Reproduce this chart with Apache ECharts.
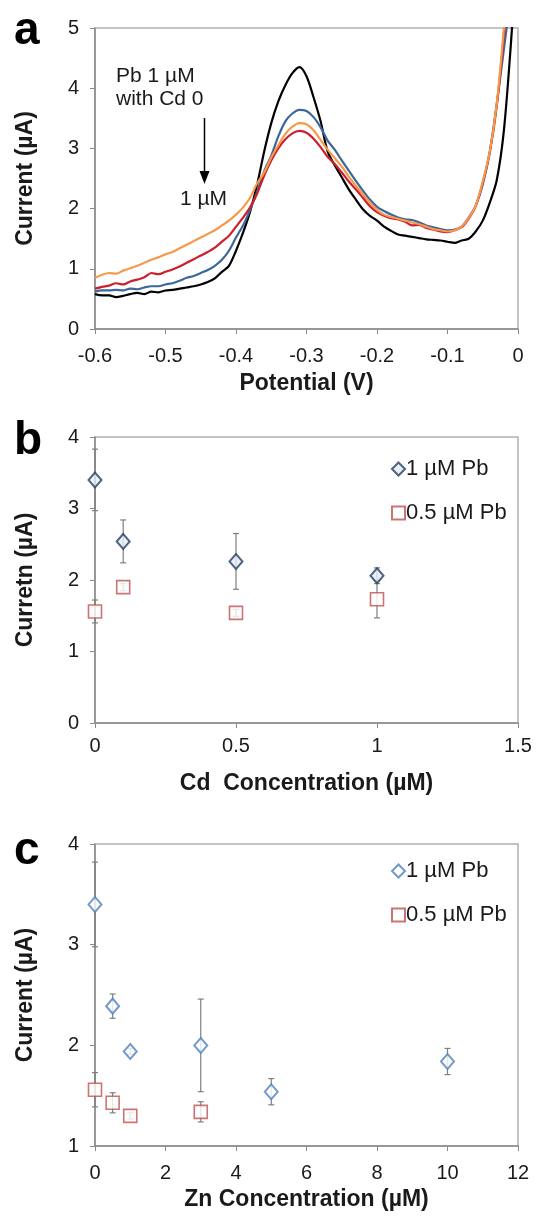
<!DOCTYPE html>
<html>
<head>
<meta charset="utf-8">
<script src="https://cdn.jsdelivr.net/npm/echarts@6/dist/echarts.min.js"></script>
<style>
  html, body { margin: 0; padding: 0; background: #fff; }
  #wrap { position: relative; width: 537px; height: 1216px; }
  .panel { position: absolute; left: 0; width: 537px; }
</style>
</head>
<body>
<div id="wrap">
  <div id="pa" class="panel" style="top:0;height:400px"></div>
  <div id="pb" class="panel" style="top:400px;height:400px"></div>
  <div id="pc" class="panel" style="top:800px;height:416px"></div>
</div>
<script>
// ---- Panel a: stripping voltammograms, Pb 1 µM with Cd 0 → 1 µM ----
const potential = [
  -0.60, -0.59, -0.58, -0.57, -0.56, -0.55, -0.54, -0.53, -0.52, -0.51,
  -0.50, -0.49, -0.48, -0.47, -0.46, -0.45, -0.44, -0.43, -0.42, -0.41,
  -0.40, -0.39, -0.38, -0.37, -0.36, -0.35, -0.34, -0.33, -0.32, -0.31,
  -0.30, -0.29, -0.28, -0.27, -0.26, -0.25, -0.24, -0.23, -0.22, -0.21,
  -0.20, -0.19, -0.18, -0.17, -0.16, -0.15, -0.14, -0.13, -0.12, -0.11,
  -0.10, -0.09, -0.08, -0.07, -0.06, -0.05, -0.04, -0.03, -0.02, -0.01, 0.00
];
const currentCd0 = [
  0.58, 0.56, 0.56, 0.53, 0.55, 0.58, 0.60, 0.58, 0.62, 0.61,
  0.64, 0.65, 0.67, 0.69, 0.71, 0.74, 0.78, 0.84, 0.95, 1.05,
  1.30, 1.60, 1.95, 2.40, 2.95, 3.42, 3.78, 4.05, 4.25, 4.35,
  4.20, 3.85, 3.45, 2.95, 2.72, 2.52, 2.32, 2.15, 1.99, 1.88,
  1.80, 1.70, 1.63, 1.57, 1.55, 1.53, 1.51, 1.49, 1.48, 1.47,
  1.45, 1.43, 1.47, 1.50, 1.62, 1.80, 2.10, 2.48, 3.30, 4.75, 6.50
];
const currentCdA = [
  0.62, 0.64, 0.64, 0.65, 0.64, 0.67, 0.66, 0.69, 0.71, 0.71,
  0.74, 0.76, 0.80, 0.85, 0.88, 0.93, 0.98, 1.05, 1.15, 1.30,
  1.52, 1.72, 1.98, 2.28, 2.62, 2.88, 3.20, 3.45, 3.58, 3.64,
  3.62, 3.52, 3.35, 3.13, 2.98, 2.80, 2.63, 2.46, 2.30, 2.15,
  2.03, 1.96, 1.90, 1.85, 1.82, 1.81, 1.77, 1.72, 1.69, 1.66,
  1.64, 1.65, 1.70, 1.85, 2.05, 2.40, 2.95, 3.75, 4.65, 5.60, 7.00
];
const currentCdB = [
  0.67, 0.70, 0.72, 0.76, 0.74, 0.79, 0.82, 0.86, 0.93, 0.91,
  0.95, 0.99, 1.04, 1.10, 1.16, 1.22, 1.28, 1.35, 1.45, 1.55,
  1.70, 1.85, 2.02, 2.25, 2.55, 2.80, 3.00, 3.15, 3.25, 3.29,
  3.26, 3.16, 3.02, 2.86, 2.74, 2.60, 2.45, 2.32, 2.18, 2.04,
  1.94, 1.88, 1.84, 1.82, 1.78, 1.72, 1.73, 1.68, 1.65, 1.62,
  1.61, 1.64, 1.69, 1.83, 2.04, 2.43, 2.93, 3.72, 4.90, 6.40, 7.50
];
const currentCd1 = [
  0.85, 0.90, 0.93, 0.92, 0.97, 1.01, 1.05, 1.10, 1.15, 1.19,
  1.24, 1.28, 1.34, 1.40, 1.46, 1.52, 1.58, 1.64, 1.72, 1.80,
  1.90, 2.02, 2.18, 2.42, 2.60, 2.85, 3.05, 3.24, 3.36, 3.42,
  3.40, 3.30, 3.14, 2.98, 2.84, 2.70, 2.53, 2.38, 2.24, 2.10,
  1.98, 1.90, 1.86, 1.83, 1.80, 1.77, 1.74, 1.70, 1.66, 1.64,
  1.62, 1.64, 1.70, 1.84, 2.05, 2.45, 2.95, 3.76, 5.00, 6.50, 8.00
];
const potentialTicks = ['-0.6', '-0.5', '-0.4', '-0.3', '-0.2', '-0.1', '0'];

// ---- Panel b: Pb response vs Cd concentration ----
const cdConc = [0, 0.1, 0.5, 1];
const pb1WithCd = [3.40, 2.54, 2.26, 2.06];
const pb1WithCdErr = [0.43, 0.30, 0.39, 0.11];
const pb05WithCd = [1.56, 1.90, 1.54, 1.73];
const pb05WithCdErr = [0.16, 0.05, 0.05, 0.26];

// ---- Panel c: Pb response vs Zn concentration ----
const znConc1 = [0, 0.5, 1, 3, 5, 10];
const pb1WithZn = [3.40, 2.39, 1.94, 2.00, 1.54, 1.84];
const pb1WithZnErr = [0.42, 0.12, 0.03, 0.46, 0.13, 0.13];
const znConc05 = [0, 0.5, 1, 3];
const pb05WithZn = [1.56, 1.43, 1.30, 1.34];
const pb05WithZnErr = [0.17, 0.10, 0.03, 0.10];

const FONT = '"Liberation Sans", Arial, sans-serif';
const AXIS_GREY = '#8a8a8a';
const TXT = '#1a1a1a';

function pairs(xs, ys) { return xs.map((x, i) => [x, ys[i]]); }
function triples(xs, ys, es) { return xs.map((x, i) => [x, ys[i], es[i]]); }

function axisCommon(labelMargin) {
  return {
    axisLine: { show: true, onZero: false, lineStyle: { color: AXIS_GREY, width: 1.5 } },
    axisTick: { show: true, inside: false, length: 5, lineStyle: { color: AXIS_GREY, width: 1 } },
    axisLabel: { color: TXT, fontSize: 20, fontFamily: FONT, margin: labelMargin },
    splitLine: { show: false },
    nameTextStyle: { color: TXT, fontSize: 23, fontWeight: 'bold', fontFamily: FONT },
    nameLocation: 'middle'
  };
}

function letter(ch, top) {
  return {
    type: 'text', left: 14, top: top,
    style: { text: ch, fill: '#000', font: 'bold 46px ' + FONT }
  };
}

function legendAt(top) {
  return {
    orient: 'vertical', left: 386, top: top, itemGap: 22, itemWidth: 13, itemHeight: 13,
    textStyle: { color: TXT, fontSize: 22, fontFamily: FONT, padding: [0, 0, 0, -4] },
    data: ['1 µM Pb', '0.5 µM Pb']
  };
}

function errorSeries(name, data, z) {
  return {
    type: 'custom', name: name, z: z, silent: true,
    renderItem: function (params, api) {
      const x = api.value(0), y = api.value(1), e = api.value(2);
      const hi = api.coord([x, y + e]);
      const lo = api.coord([x, y - e]);
      const cap = 3;
      const st = { stroke: '#7f7f7f', lineWidth: 1.2 };
      return {
        type: 'group',
        children: [
          { type: 'line', shape: { x1: hi[0], y1: hi[1], x2: lo[0], y2: lo[1] }, style: st },
          { type: 'line', shape: { x1: hi[0] - cap, y1: hi[1], x2: hi[0] + cap, y2: hi[1] }, style: st },
          { type: 'line', shape: { x1: lo[0] - cap, y1: lo[1], x2: lo[0] + cap, y2: lo[1] }, style: st }
        ]
      };
    },
    data: data
  };
}

const gridBase = { left: 95, right: 19, height: 303, show: true, borderColor: '#b0b0b0', borderWidth: 1.5 };

// ---------- chart a ----------
const chartA = echarts.init(document.getElementById('pa'));
const lineStyleOf = (c) => ({ color: c, width: 2.2 });
chartA.setOption({
  animation: false,
  grid: Object.assign({}, gridBase, { top: 28, height: 302 }),
  xAxis: Object.assign(axisCommon(17), {
    type: 'value', min: -0.6, max: 0, interval: 0.1,
    name: 'Potential (V)', nameGap: 43,
    axisLabel: Object.assign(axisCommon(17).axisLabel, {
      formatter: (v) => potentialTicks[Math.round((v + 0.6) * 10)]
    })
  }),
  yAxis: Object.assign(axisCommon(16), {
    type: 'value', min: 0, max: 5, interval: 1,
    name: 'Current (µA)', nameGap: 58
  }),
  series: [
    { type: 'line', name: 'Cd 0', data: pairs(potential, currentCd0), showSymbol: false, smooth: 0.3, lineStyle: lineStyleOf('#000000'), z: 2 },
    { type: 'line', name: 'Cd a', data: pairs(potential, currentCdA), showSymbol: false, smooth: 0.3, lineStyle: lineStyleOf('#3b679a'), z: 3 },
    { type: 'line', name: 'Cd b', data: pairs(potential, currentCdB), showSymbol: false, smooth: 0.3, lineStyle: lineStyleOf('#cc1f2b'), z: 4 },
    { type: 'line', name: 'Cd 1', data: pairs(potential, currentCd1), showSymbol: false, smooth: 0.3, lineStyle: lineStyleOf('#f7994a'), z: 5 }
  ],
  graphic: [
    letter('a', 8),
    { type: 'text', left: 116, top: 66, style: { text: 'Pb 1 µM', fill: TXT, font: '21px ' + FONT } },
    { type: 'text', left: 116, top: 89, style: { text: 'with Cd 0', fill: TXT, font: '21px ' + FONT } },
    { type: 'line', shape: { x1: 204.5, y1: 118, x2: 204.5, y2: 178 }, style: { stroke: '#000', lineWidth: 1.5 } },
    { type: 'polygon', shape: { points: [[199.5, 171], [209.5, 171], [204.5, 184]] }, style: { fill: '#000' } },
    { type: 'text', left: 180, top: 189, style: { text: '1 µM', fill: TXT, font: '21px ' + FONT } }
  ]
});

// ---------- chart b ----------
const chartB = echarts.init(document.getElementById('pb'));
chartB.setOption({
  animation: false,
  grid: Object.assign({}, gridBase, { top: 37 }),
  xAxis: Object.assign(axisCommon(13), {
    type: 'value', min: 0, max: 1.5, interval: 0.5,
    name: 'Cd  Concentration (µM)', nameGap: 49
  }),
  yAxis: Object.assign(axisCommon(16), {
    type: 'value', min: 0, max: 4, interval: 1,
    name: 'Curretn (µA)', nameGap: 58
  }),
  legend: legendAt(53),
  series: [
    errorSeries('err1', triples(cdConc, pb1WithCd, pb1WithCdErr), 1),
    errorSeries('err05', triples(cdConc, pb05WithCd, pb05WithCdErr), 1),
    { type: 'scatter', name: '1 µM Pb', data: pairs(cdConc, pb1WithCd), symbol: 'diamond', symbolSize: [13, 15], z: 3,
      itemStyle: { color: '#e4ecf5', borderColor: '#233d5e', borderWidth: 2 } },
    { type: 'scatter', name: '0.5 µM Pb', data: pairs(cdConc, pb05WithCd), symbol: 'rect', symbolSize: 13, z: 3,
      itemStyle: { color: '#ffffff', borderColor: '#c0504d', borderWidth: 1.6 } }
  ],
  graphic: [letter('b', 18)]
});

// ---------- chart c ----------
const chartC = echarts.init(document.getElementById('pc'));
chartC.setOption({
  animation: false,
  grid: Object.assign({}, gridBase, { top: 44 }),
  xAxis: Object.assign(axisCommon(17), {
    type: 'value', min: 0, max: 12, interval: 2,
    name: 'Zn Concentration (µM)', nameGap: 41
  }),
  yAxis: Object.assign(axisCommon(16), {
    type: 'value', min: 1, max: 4, interval: 1,
    name: 'Current (µA)', nameGap: 58
  }),
  legend: legendAt(55),
  series: [
    errorSeries('err1', triples(znConc1, pb1WithZn, pb1WithZnErr), 1),
    errorSeries('err05', triples(znConc05, pb05WithZn, pb05WithZnErr), 1),
    { type: 'scatter', name: '1 µM Pb', data: pairs(znConc1, pb1WithZn), symbol: 'diamond', symbolSize: [13, 15], z: 3,
      itemStyle: { color: '#ffffff', borderColor: '#4f81bd', borderWidth: 2 } },
    { type: 'scatter', name: '0.5 µM Pb', data: pairs(znConc05, pb05WithZn), symbol: 'rect', symbolSize: 13, z: 3,
      itemStyle: { color: '#ffffff', borderColor: '#c0504d', borderWidth: 1.6 } }
  ],
  graphic: [letter('c', 28)]
});
</script>
</body>
</html>
